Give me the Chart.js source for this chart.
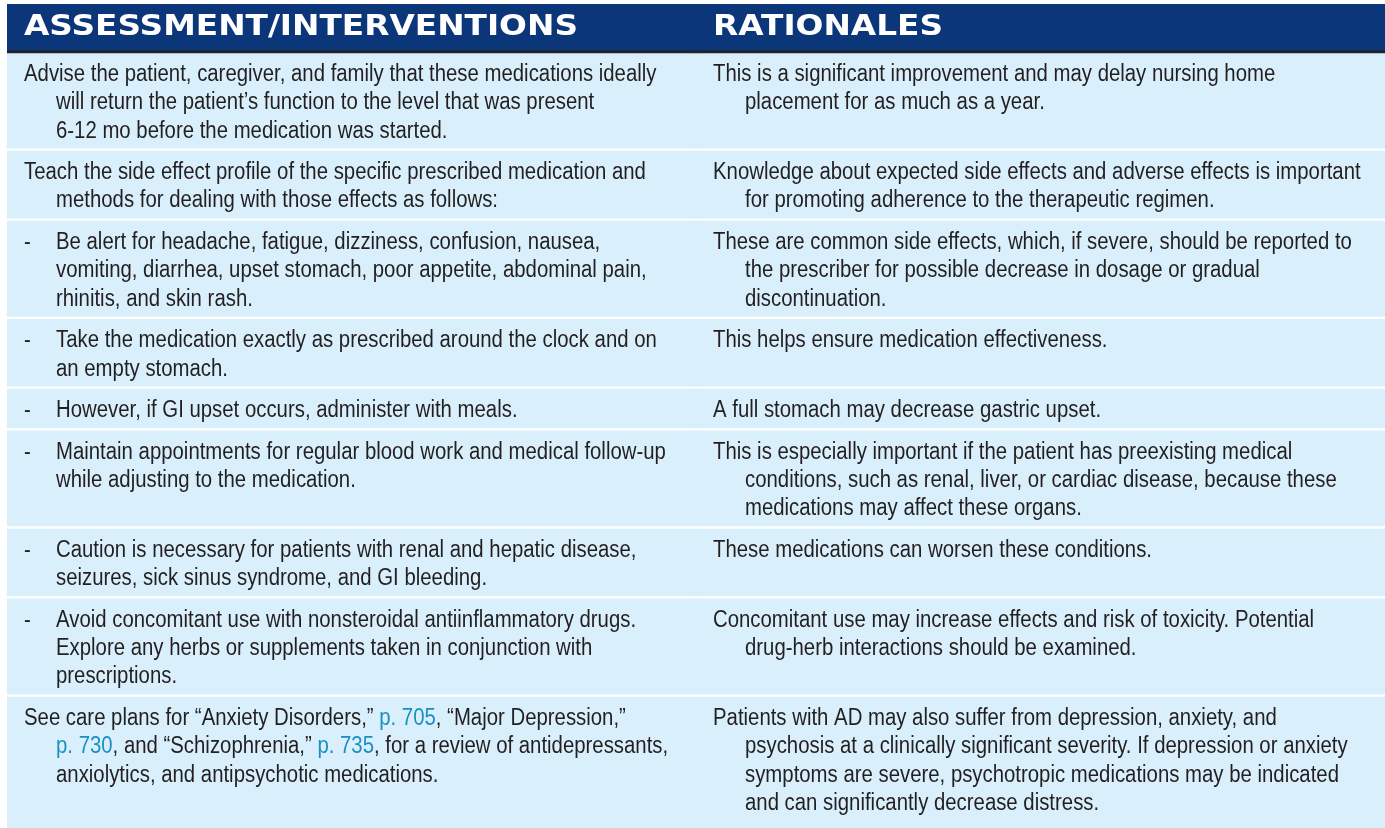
<!DOCTYPE html>
<html>
<head>
<meta charset="utf-8">
<title>Assessment/Interventions and Rationales</title>
<script src="https://cdn.jsdelivr.net/npm/chart.js@4.4.1/dist/chart.umd.min.js"></script>
<style>
  html, body { margin: 0; padding: 0; background: #ffffff; }
  #wrap { width: 1385px; height: 828px; }
</style>
</head>
<body>
<div id="wrap"><canvas id="table" width="1385" height="828"></canvas></div>
<script>
// column headers (the x categories)
const COLUMNS = ["ASSESSMENT/INTERVENTIONS", "RATIONALES"];

// left column, one array of printed lines per row
const INTERVENTIONS = [
    ["Advise the patient, caregiver, and family that these medications ideally",
     "will return the patient\u2019s function to the level that was present",
     "6-12 mo before the medication was started."],
    ["Teach the side effect profile of the specific prescribed medication and",
     "methods for dealing with those effects as follows:"],
    ["Be alert for headache, fatigue, dizziness, confusion, nausea,",
     "vomiting, diarrhea, upset stomach, poor appetite, abdominal pain,",
     "rhinitis, and skin rash."],
    ["Take the medication exactly as prescribed around the clock and on",
     "an empty stomach."],
    ["However, if GI upset occurs, administer with meals."],
    ["Maintain appointments for regular blood work and medical follow-up",
     "while adjusting to the medication."],
    ["Caution is necessary for patients with renal and hepatic disease,",
     "seizures, sick sinus syndrome, and GI bleeding."],
    ["Avoid concomitant use with nonsteroidal antiinflammatory drugs.",
     "Explore any herbs or supplements taken in conjunction with",
     "prescriptions."],
    ["See care plans for \u201cAnxiety Disorders,\u201d p. 705, \u201cMajor Depression,\u201d",
     "p. 730, and \u201cSchizophrenia,\u201d p. 735, for a review of antidepressants,",
     "anxiolytics, and antipsychotic medications."]
];

// right column
const RATIONALES = [
    ["This is a significant improvement and may delay nursing home",
     "placement for as much as a year."],
    ["Knowledge about expected side effects and adverse effects is important",
     "for promoting adherence to the therapeutic regimen."],
    ["These are common side effects, which, if severe, should be reported to",
     "the prescriber for possible decrease in dosage or gradual",
     "discontinuation."],
    ["This helps ensure medication effectiveness."],
    ["A full stomach may decrease gastric upset."],
    ["This is especially important if the patient has preexisting medical",
     "conditions, such as renal, liver, or cardiac disease, because these",
     "medications may affect these organs."],
    ["These medications can worsen these conditions."],
    ["Concomitant use may increase effects and risk of toxicity. Potential",
     "drug-herb interactions should be examined."],
    ["Patients with AD may also suffer from depression, anxiety, and",
     "psychosis at a clinically significant severity. If depression or anxiety",
     "symptoms are severe, psychotropic medications may be indicated",
     "and can significantly decrease distress."]
];

// rows printed as "-" sub items
const BULLETED = [false, false, true, true, true, true, true, true, false];

// layout, in y units (1 unit = 1px)
const HEADER_H = 46, RULE_H = 3, LINE_H = 28.3, PAD_TOP = 7.5, PAD_BOTTOM = 2.8, GAP = 3;
const TOTAL_H = 824;
const NAVY = "#0b367a", RULE = "#1e2530", CELL = "#d9f0fc", INK = "#231f20", LINK = "#1b8fc4";
const BODY_FONT = '23px "Liberation Sans", Arial, sans-serif', BODY_SX = 0.885;
const HEAD_FONT = 'bold 28px "DejaVu Sans", sans-serif', HEAD_SX = 1.17;
const CELL_PAD = 17, INDENT = 32;

// row extents from the line counts
var rowSpans = [];
var cursor = HEADER_H + RULE_H;
for (var i = 0; i < INTERVENTIONS.length; i++) {
    var n = Math.max(INTERVENTIONS[i].length, RATIONALES[i].length);
    var h = PAD_TOP + n * LINE_H + PAD_BOTTOM;
    rowSpans.push({ top: cursor, bottom: cursor + h });
    cursor += h + GAP;
}
// the last row runs off the bottom of the page
rowSpans[rowSpans.length - 1].bottom = Math.max(rowSpans[rowSpans.length - 1].bottom, TOTAL_H);

var datasets = [
    { label: "header", data: [[0, HEADER_H], [0, HEADER_H]], backgroundColor: NAVY },
    { label: "rule", data: [[HEADER_H, HEADER_H + RULE_H], [HEADER_H, HEADER_H + RULE_H]], backgroundColor: RULE }
];
rowSpans.forEach(function (r, i) {
    datasets.push({
        label: "row " + (i + 1),
        data: [[r.top, r.bottom], [r.top, r.bottom]],
        backgroundColor: CELL
    });
});

// draws one line, page references in blue
function drawLine(ctx, text, px, py) {
    var parts = text.split(/(p\. \d+)/);
    var cx = px;
    parts.forEach(function (part, k) {
        if (!part) return;
        ctx.save();
        ctx.translate(cx, py);
        ctx.scale(BODY_SX, 1);
        ctx.fillStyle = k % 2 ? LINK : INK;
        ctx.fillText(part, 0, 0);
        ctx.restore();
        cx += ctx.measureText(part).width * BODY_SX;
    });
}

var tableText = {
    id: "tableText",
    afterDatasetsDraw: function (chart) {
        var ctx = chart.ctx, xs = chart.scales.x, ys = chart.scales.y;
        var colW = xs.getPixelForValue(1) - xs.getPixelForValue(0);
        ctx.save();
        ctx.textBaseline = "middle";
        ctx.textAlign = "left";

        // header labels
        ctx.font = HEAD_FONT;
        COLUMNS.forEach(function (label, c) {
            var left = xs.getPixelForValue(c) - colW / 2;
            ctx.save();
            ctx.translate(left + CELL_PAD, ys.getPixelForValue(HEADER_H / 2) + 1);
            ctx.scale(HEAD_SX, 1);
            ctx.fillStyle = "#ffffff";
            ctx.fillText(label, 0, 0);
            ctx.restore();
        });

        // body cells
        ctx.font = BODY_FONT;
        [INTERVENTIONS, RATIONALES].forEach(function (col, c) {
            var left = xs.getPixelForValue(c) - colW / 2 + CELL_PAD;
            col.forEach(function (lines, r) {
                var bullet = c === 0 && BULLETED[r];
                lines.forEach(function (line, j) {
                    var py = ys.getPixelForValue(rowSpans[r].top + PAD_TOP + LINE_H * (j + 0.5));
                    if (bullet && j === 0) drawLine(ctx, "-", left, py);
                    var px = left + ((bullet || j > 0) ? INDENT : 0);
                    drawLine(ctx, line, px, py);
                });
            });
        });
        ctx.restore();
    }
};

var chart = new Chart(document.getElementById("table").getContext("2d"), {
    type: "bar",
    data: { labels: COLUMNS, datasets: datasets },
    options: {
        responsive: false,
        animation: false,
        layout: { padding: { left: 7, top: 4, right: 0, bottom: 0 } },
        datasets: {
            bar: { grouped: false, barPercentage: 1, categoryPercentage: 1, borderWidth: 0 }
        },
        scales: {
            x: { display: false, offset: true },
            y: { display: false, min: 0, max: TOTAL_H, reverse: true }
        },
        plugins: {
            legend: { display: false },
            tooltip: { enabled: false }
        }
    },
    plugins: [tableText]
});
</script>
</body>
</html>
